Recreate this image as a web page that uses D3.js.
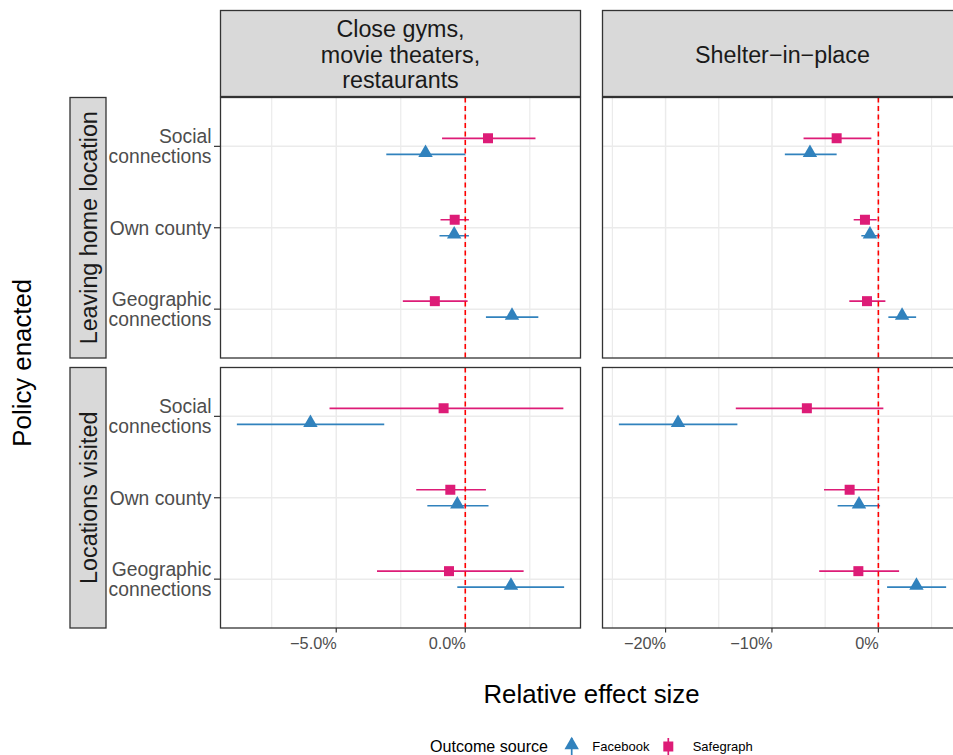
<!DOCTYPE html>
<html>
<head>
<meta charset="utf-8">
<script src="https://cdn.jsdelivr.net/npm/d3@7"></script>
<style>
  html, body { margin: 0; padding: 0; background: #fff; }
  svg { display: block; }
</style>
</head>
<body>
<div id="chart"></div>
<script>
// ---------------- DATA ----------------
const categories = ["Social connections", "Own county", "Geographic connections"];
const categoryLines = [["Social", "connections"], ["Own county"], ["Geographic", "connections"]];
const policies = ["Close gyms, movie theaters, restaurants", "Shelter\u2212in\u2212place"];
const policyLines = [["Close gyms,", "movie theaters,", "restaurants"], ["Shelter\u2212in\u2212place"]];
const outcomes = ["Leaving home location", "Locations visited"];
const sources = ["Facebook", "Safegraph"];

// each row: [estimate, lower, upper] in percent, order = categories
const fbCloseLeaving    = [[-1.54, -3.06, 0.00], [-0.43, -1.00, 0.14], [1.81, 0.80, 2.83]];
const sgCloseLeaving    = [[0.88, -0.90, 2.72], [-0.41, -0.96, 0.14], [-1.18, -2.42, 0.09]];
const fbCloseVisited    = [[-6.00, -8.85, -3.14], [-0.31, -1.47, 0.90], [1.77, -0.31, 3.83]];
const sgCloseVisited    = [[-0.84, -5.26, 3.80], [-0.58, -1.90, 0.80], [-0.63, -3.42, 2.26]];
const fbShelterLeaving  = [[-6.43, -8.79, -3.92], [-0.79, -1.60, 0.13], [2.23, 0.94, 3.55]];
const sgShelterLeaving  = [[-3.92, -7.03, -0.66], [-1.26, -2.32, -0.16], [-1.07, -2.73, 0.66]];
const fbShelterVisited  = [[-18.83, -24.39, -13.25], [-1.82, -3.83, 0.16], [3.58, 0.82, 6.37]];
const sgShelterVisited  = [[-6.72, -13.40, 0.47], [-2.70, -5.11, -0.19], [-1.88, -5.56, 1.95]];

const closeMajorTicks = [-5, 0];
const closeMinorTicks = [-7.5, -2.5, 2.5];
const closeTickLabels = ["\u22125.0%", "0.0%"];
const shelterMajorTicks = [-20, -10, 0];
const shelterMinorTicks = [-25, -15, -5, 5];
const shelterTickLabels = ["\u221220%", "\u221210%", "0%"];

// ---------------- BUILD ----------------
const panelData = [
  [ {fb: fbCloseLeaving, sg: sgCloseLeaving}, {fb: fbShelterLeaving, sg: sgShelterLeaving} ],
  [ {fb: fbCloseVisited, sg: sgCloseVisited}, {fb: fbShelterVisited, sg: sgShelterVisited} ]
];
const colTicks = [
  {major: closeMajorTicks, minor: closeMinorTicks, labels: closeTickLabels},
  {major: shelterMajorTicks, minor: shelterMinorTicks, labels: shelterTickLabels}
];

const W = 953, H = 755;
const colors = {Facebook: "#3182bd", Safegraph: "#dd1c77"};
const cols = [{x0: 220.5, x1: 580.5}, {x0: 602.5, x1: 962.5}];
const rows = [{y0: 97.5, y1: 358}, {y0: 367.5, y1: 628}];
const dodge = 8;
const font = "'Liberation Sans', Arial, Helvetica, sans-serif";

const svg = d3.select("#chart").append("svg")
  .attr("width", W).attr("height", H)
  .style("font-family", font);

// x scales per column (free), 5% expansion like ggplot
const xScales = cols.map((c, ci) => {
  const vals = [];
  panelData.forEach(r => ["fb", "sg"].forEach(k => r[ci][k].forEach(d => vals.push(d[1], d[2]))));
  const [mn, mx] = d3.extent(vals);
  const pad = (mx - mn) * 0.05;
  return d3.scaleLinear().domain([mn - pad, mx + pad]).range([c.x0, c.x1]);
});
const yScales = rows.map(r => d3.scalePoint().domain(categories).range([r.y0, r.y1]).padding(0.6));

const clipRoot = svg.append("defs");

rows.forEach((r, ri) => {
  cols.forEach((c, ci) => {
    const x = xScales[ci], y = yScales[ri];
    const id = `clip-${ri}-${ci}`;
    clipRoot.append("clipPath").attr("id", id).append("rect")
      .attr("x", c.x0).attr("y", r.y0).attr("width", c.x1 - c.x0).attr("height", r.y1 - r.y0);
    const g = svg.append("g");
    const inner = g.append("g").attr("clip-path", `url(#${id})`);
    inner.append("rect").attr("x", c.x0).attr("y", r.y0)
      .attr("width", c.x1 - c.x0).attr("height", r.y1 - r.y0).attr("fill", "#fff");
    // grid
    const t = colTicks[ci];
    inner.selectAll(".gminor").data(t.minor).join("line")
      .attr("x1", d => x(d)).attr("x2", d => x(d)).attr("y1", r.y0).attr("y2", r.y1)
      .attr("stroke", "#ebebeb").attr("stroke-width", 1.2);
    inner.selectAll(".gmajor").data(t.major).join("line")
      .attr("x1", d => x(d)).attr("x2", d => x(d)).attr("y1", r.y0).attr("y2", r.y1)
      .attr("stroke", "#ebebeb").attr("stroke-width", 1.5);
    inner.selectAll(".gy").data(categories).join("line")
      .attr("x1", c.x0).attr("x2", c.x1).attr("y1", d => y(d)).attr("y2", d => y(d))
      .attr("stroke", "#ebebeb").attr("stroke-width", 1.5);

    // pointranges
    const pd = panelData[ri][ci];
    const series = [
      {src: "Safegraph", vals: pd.sg, off: -dodge},
      {src: "Facebook", vals: pd.fb, off: dodge}
    ];
    series.forEach(s => {
      const sg = inner.append("g");
      s.vals.forEach((d, i) => {
        const yy = y(categories[i]) + s.off;
        sg.append("line").attr("x1", x(d[1])).attr("x2", x(d[2]))
          .attr("y1", yy).attr("y2", yy)
          .attr("stroke", colors[s.src]).attr("stroke-width", 1.7);
        const sym = s.src === "Facebook" ? d3.symbol(d3.symbolTriangle, 90) : d3.symbol(d3.symbolSquare, 100);
        sg.append("path").attr("d", sym())
          .attr("transform", `translate(${x(d[0])},${yy + (s.src === "Facebook" ? -1.5 : 0)})`)
          .attr("fill", colors[s.src]);
      });
    });

    // zero line
    inner.append("line").attr("x1", x(0)).attr("x2", x(0)).attr("y1", r.y0).attr("y2", r.y1)
      .attr("stroke", "#ff0000").attr("stroke-width", 1.6).attr("stroke-dasharray", "5,3.5");

    // border
    g.append("rect").attr("x", c.x0).attr("y", r.y0)
      .attr("width", c.x1 - c.x0).attr("height", r.y1 - r.y0)
      .attr("fill", "none").attr("stroke", "#333333").attr("stroke-width", 1.3);

    // y axis (left column only)
    if (ci === 0) {
      categories.forEach((cat, i) => {
        const yy = y(cat);
        g.append("line").attr("x1", c.x0 - 6.5).attr("x2", c.x0).attr("y1", yy).attr("y2", yy)
          .attr("stroke", "#333333").attr("stroke-width", 1.2);
        const lines = categoryLines[i];
        const n = lines.length;
        lines.forEach((ln, li) => {
          g.append("text").attr("x", c.x0 - 9).attr("y", yy + 7 + (li - (n - 1) / 2) * 20)
            .attr("text-anchor", "end").attr("font-size", 19.3).attr("fill", "#4d4d4d").text(ln);
        });
      });
    }
    // x axis (bottom row only)
    if (ri === rows.length - 1) {
      t.major.forEach((v, i) => {
        g.append("line").attr("x1", x(v)).attr("x2", x(v)).attr("y1", r.y1).attr("y2", r.y1 + 4.5)
          .attr("stroke", "#333333").attr("stroke-width", 1.2);
        g.append("text").attr("x", x(v) + 0.5).attr("y", r.y1 + 20.5)
          .attr("text-anchor", "end").attr("font-size", 16.3).attr("fill", "#4d4d4d").text(t.labels[i]);
      });
    }
  });
});

// column strips
cols.forEach((c, ci) => {
  svg.append("rect").attr("x", c.x0).attr("y", 10.5).attr("width", c.x1 - c.x0).attr("height", 86)
    .attr("fill", "#d9d9d9").attr("stroke", "#333333").attr("stroke-width", 1.3);
  const lines = policyLines[ci];
  const n = lines.length;
  const cx = (c.x0 + c.x1) / 2;
  lines.forEach((ln, li) => {
    svg.append("text").attr("x", cx).attr("y", 62.5 + (li - (n - 1) / 2) * 25.8)
      .attr("text-anchor", "middle").attr("font-size", 23.3).attr("fill", "#1a1a1a").text(ln);
  });
});

// row strips
rows.forEach((r, ri) => {
  svg.append("rect").attr("x", 70).attr("y", r.y0).attr("width", 36).attr("height", r.y1 - r.y0)
    .attr("fill", "#d9d9d9").attr("stroke", "#333333").attr("stroke-width", 1.3);
  const cy = (r.y0 + r.y1) / 2;
  svg.append("text").attr("transform", `translate(96.5,${cy}) rotate(-90)`)
    .attr("text-anchor", "middle").attr("font-size", 23.3).attr("fill", "#1a1a1a").text(outcomes[ri]);
});

// axis titles
svg.append("text").attr("x", (cols[0].x0 + cols[1].x1) / 2).attr("y", 703)
  .attr("text-anchor", "middle").attr("font-size", 25.8).attr("fill", "#000").text("Relative effect size");
svg.append("text").attr("transform", `translate(31,${(rows[0].y0 + rows[1].y1) / 2}) rotate(-90)`)
  .attr("text-anchor", "middle").attr("font-size", 25.8).attr("fill", "#000").text("Policy enacted");

// legend
const lg = svg.append("g");
const ly = 746.5;
lg.append("text").attr("x", 430).attr("y", ly + 5.8).attr("font-size", 16.1).attr("fill", "#000").text("Outcome source");
const legendItems = [
  {src: sources[0], kx: 571.7, tx: 592.3},
  {src: sources[1], kx: 668.3, tx: 692.7}
];
legendItems.forEach(it => {
  lg.append("line").attr("x1", it.kx).attr("x2", it.kx).attr("y1", ly - 8.5).attr("y2", ly + 8.5)
    .attr("stroke", colors[it.src]).attr("stroke-width", 1.7);
  const sym = it.src === "Facebook" ? d3.symbol(d3.symbolTriangle, 90) : d3.symbol(d3.symbolSquare, 100);
  lg.append("path").attr("d", sym())
    .attr("transform", `translate(${it.kx},${ly + (it.src === "Facebook" ? -1.5 : 0)})`)
    .attr("fill", colors[it.src]);
  lg.append("text").attr("x", it.tx).attr("y", ly + 4.7).attr("font-size", 13).attr("fill", "#000").text(it.src);
});
</script>
</body>
</html>
